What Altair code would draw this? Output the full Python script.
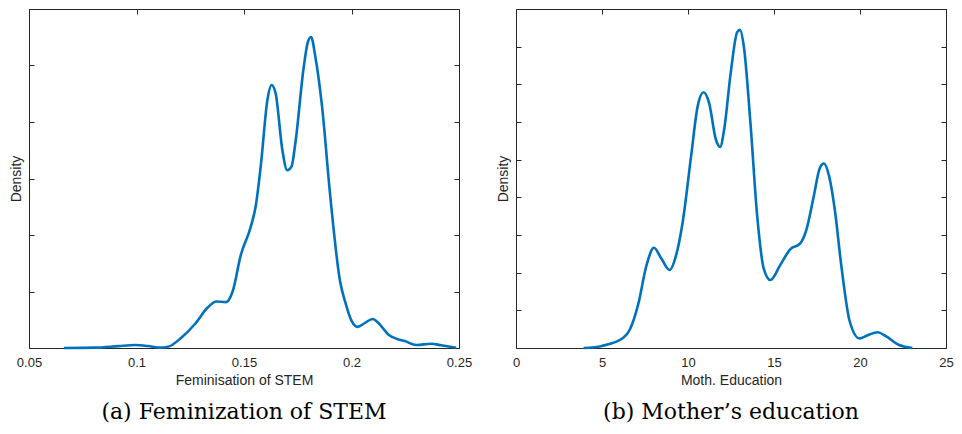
import altair as alt
import pandas as pd

# Panel (a): Feminisation of STEM (kernel density)
fem_x = [0.0662, 0.0808, 0.0916, 0.0993, 0.1054, 0.1108, 0.1147, 0.1208, 0.1270,
         0.1332, 0.1370, 0.1416, 0.1447, 0.1485, 0.1531, 0.1555, 0.1578, 0.1609,
         0.1628, 0.1647, 0.1678, 0.1701, 0.1721, 0.1739, 0.1778, 0.1797, 0.1812,
         0.1832, 0.1863, 0.1901, 0.1947, 0.1970, 0.2001, 0.2028, 0.2063, 0.2098,
         0.2125, 0.2171, 0.2209, 0.2248, 0.2302, 0.2371, 0.2417, 0.2487]
fem_density = [0.0, 0.03, 0.17, 0.26, 0.17, 0.03, 0.11, 0.90, 2.08,
               3.60, 4.12, 4.06, 5.0, 8.22, 10.70, 12.61, 16.11, 21.96,
               23.27, 22.54, 17.57, 15.73, 16.05, 18.16, 24.89, 27.08, 27.52,
               25.76, 21.38, 13.48, 5.88, 4.12, 2.37, 1.87, 2.22, 2.57,
               2.22, 1.20, 0.82, 0.61, 0.26, 0.38, 0.24, 0.03]

# Panel (b): Mother's education
edu_x = [3.93, 4.99, 6.24, 6.62, 7.10, 7.59, 8.02, 8.45, 8.93, 9.31, 9.69, 10.18,
         10.56, 10.90, 11.23, 11.62, 11.87, 12.10, 12.48, 12.86, 13.02, 13.25,
         13.63, 14.02, 14.40, 14.79, 15.36, 15.94, 16.51, 16.90, 17.28, 17.67,
         17.90, 18.20, 18.53, 18.91, 19.40, 19.97, 20.45, 21.03, 21.50, 22.28, 23.04]
edu_density = [0.0, 0.0011, 0.0054, 0.0098, 0.0230, 0.0440, 0.0532, 0.0475, 0.0414,
               0.0493, 0.0668, 0.1019, 0.1283, 0.1358, 0.1300, 0.1107, 0.1068,
               0.1159, 0.1458, 0.1677, 0.1689, 0.1598, 0.1195, 0.0704, 0.0423,
               0.0361, 0.0440, 0.0524, 0.0554, 0.0633, 0.0791, 0.0957, 0.0980,
               0.0914, 0.0738, 0.0440, 0.0142, 0.0051, 0.0068, 0.0084, 0.0063,
               0.0016, 0.0]

fem_xticks = [0.05, 0.1, 0.15, 0.2, 0.25]
fem_yticks = [0, 5, 10, 15, 20, 25, 30]
edu_xticks = [0, 5, 10, 15, 20, 25]
edu_yticks = [0, 0.02, 0.04, 0.06, 0.08, 0.1, 0.12, 0.14, 0.16, 0.18]

H = 339
INK = "#262626"


def panel(xs, ys, xtitle, xticks, yticks, xdomain, ydomain, width, caption):
    df = pd.DataFrame({"x": xs, "d": ys})
    return alt.Chart(df).mark_line(
        color="#0072BD", strokeWidth=2.6, interpolate="monotone"
    ).encode(
        x=alt.X(
            "x:Q",
            scale=alt.Scale(domain=xdomain, nice=False, zero=False),
            axis=alt.Axis(
                values=xticks, format="~g", title=xtitle, ticks=False, tickSize=0,
                domain=False, grid=True, gridDash=[5, 2000], gridColor=INK,
                gridOpacity=1, gridWidth=1, labelFlush=False, labelPadding=8,
                titlePadding=4,
            ),
        ),
        y=alt.Y(
            "d:Q",
            scale=alt.Scale(domain=ydomain, nice=False, zero=True),
            axis=alt.Axis(
                values=yticks, labels=False, ticks=False, tickSize=0, domain=False,
                grid=True, gridDash=[5, width - 10, 5], gridColor=INK,
                gridOpacity=1, gridWidth=1, title="Density", titlePadding=6,
            ),
        ),
    ).properties(
        width=width,
        height=H,
        title=alt.TitleParams(
            text=caption, orient="bottom", font="DejaVu Serif", fontSize=22,
            fontWeight="normal", color="black", offset=15,
        ),
    )


a = panel(fem_x, fem_density, "Feminisation of STEM", fem_xticks, fem_yticks,
          [0.05, 0.25], [0, 30], 430, "(a) Feminization of STEM")
b = panel(edu_x, edu_density, "Moth. Education", edu_xticks, edu_yticks,
          [0, 25], [0, 0.18], 430, "(b) Mother\u2019s education")

chart = alt.hconcat(a, b, spacing=22).properties(
    padding={"left": 0, "top": 0, "right": 0, "bottom": 0}
).configure_view(
    stroke=INK, strokeWidth=1
).configure_axis(
    labelFont="Liberation Sans", labelFontSize=13, labelColor=INK,
    titleFont="Liberation Sans", titleFontSize=14, titleFontWeight="normal",
    titleColor=INK,
)

chart.save("out.html", embed_options={"renderer": "svg", "actions": False})
